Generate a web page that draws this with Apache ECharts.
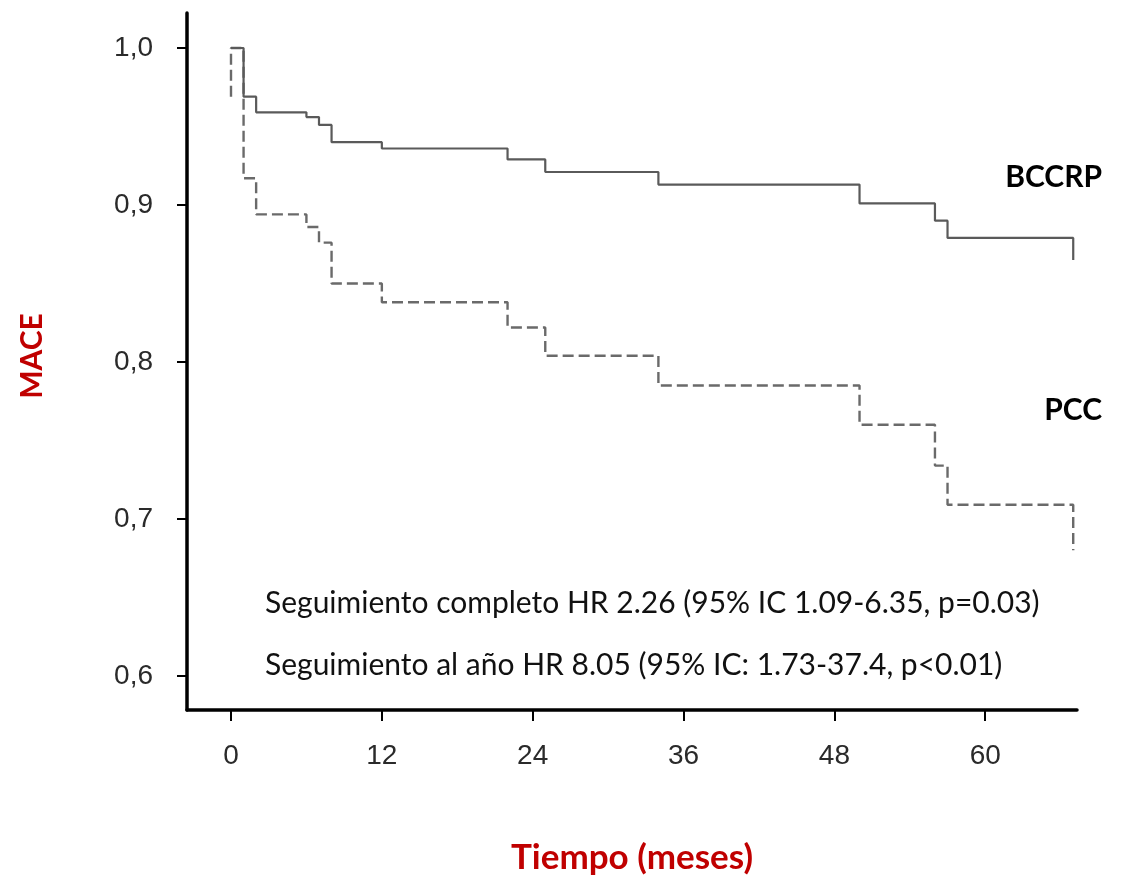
<!DOCTYPE html>
<html>
<head>
<meta charset="utf-8">
<script src="https://cdn.jsdelivr.net/npm/echarts@6/dist/echarts.min.js"></script>
<style>
html,body{margin:0;padding:0;background:#fff;}
#chart{width:1141px;height:882px;}
</style>
</head>
<body>
<div id="chart"></div>
<script>
// Data (time in months, survival free of MACE)
const bccrpTimes = [0, 1, 2, 6, 7, 8, 12, 22, 25, 34, 50, 56, 57, 67];
const bccrpSurv  = [1.0, 0.969, 0.959, 0.956, 0.951, 0.940, 0.936, 0.929, 0.921, 0.913, 0.901, 0.890, 0.879, 0.865];
const pccTimes = [0, 0, 1, 2, 6, 7, 8, 12, 22, 25, 34, 50, 56, 57, 67];
const pccSurv  = [0.969, 1.0, 0.917, 0.894, 0.886, 0.876, 0.850, 0.838, 0.822, 0.804, 0.785, 0.760, 0.734, 0.709, 0.680];
const xTicks = [0, 12, 24, 36, 48, 60];
const yTicks = [0.6, 0.7, 0.8, 0.9, 1.0];
const seriesNames = ['BCCRP', 'PCC'];
const xTitle = 'Tiempo (meses)';
const yTitle = 'MACE';
const note1 = 'Seguimiento completo HR 2.26 (95% IC 1.09-6.35, p=0.03)';
const note2 = 'Seguimiento al año HR 8.05 (95% IC: 1.73-37.4, p<0.01)';

const chart = echarts.init(document.getElementById('chart'));
const pairs = (t, s) => t.map((v, i) => [v, s[i]]);
const labelFont = 'Liberation Sans';
const textFont = 'Lato';

chart.setOption({
  backgroundColor: '#ffffff',
  animation: false,
  grid: {left: 187, right: 64, top: 13, bottom: 172, containLabel: false, outerBoundsMode: 'none'},
  xAxis: {
    type: 'value', min: -3.5, max: 67.3,
    name: xTitle, nameLocation: 'middle', nameGap: 130,
    nameTextStyle: {color: '#c00000', fontSize: 35, fontWeight: 'bold', fontFamily: textFont},
    axisLine: {onZero: false, lineStyle: {color: '#000', width: 3.5}},
    axisTick: {show: true, length: 11, lineStyle: {color: '#000', width: 2}, customValues: xTicks},
    axisLabel: {customValues: xTicks, margin: 32, fontSize: 28, color: '#2a2a2a', fontFamily: labelFont},
    splitLine: {show: false}
  },
  yAxis: {
    type: 'value', min: 0.5783, max: 1.0223,
    axisLine: {show: true, onZero: false, lineStyle: {color: '#000', width: 3.5}},
    axisTick: {show: true, length: 10, lineStyle: {color: '#000', width: 2}, customValues: yTicks},
    axisLabel: {customValues: yTicks, margin: 34, fontSize: 28, color: '#2a2a2a', fontFamily: labelFont,
      formatter: v => v.toFixed(1).replace('.', ',')},
    splitLine: {show: false}
  },
  series: [
    {
      name: seriesNames[1], type: 'line', step: 'end', showSymbol: false, z: 2,
      data: pairs(pccTimes, pccSurv),
      lineStyle: {color: '#6a6a6a', width: 2.4, type: [11, 5]}
    },
    {
      name: seriesNames[0], type: 'line', step: 'end', showSymbol: false, z: 3,
      data: pairs(bccrpTimes, bccrpSurv),
      lineStyle: {color: '#5a5a5a', width: 2.2}
    }
  ],
  graphic: [
    {type: 'text', x: 1102, y: 177, style: {text: seriesNames[0], align: 'right', verticalAlign: 'middle',
      font: 'bold 30px ' + textFont, fill: '#000'}},
    {type: 'text', x: 1102, y: 410, style: {text: seriesNames[1], align: 'right', verticalAlign: 'middle',
      font: 'bold 30px ' + textFont, fill: '#000'}},
    {type: 'text', x: 265, y: 603, style: {text: note1, align: 'left', verticalAlign: 'middle',
      font: '30px ' + textFont, fill: '#111'}},
    {type: 'text', x: 265, y: 665, style: {text: note2, align: 'left', verticalAlign: 'middle',
      font: '30px ' + textFont, fill: '#111'}},
    {type: 'text', x: 32, y: 356, rotation: Math.PI / 2, style: {text: yTitle, align: 'center', verticalAlign: 'middle',
      font: 'bold 30px ' + textFont, fill: '#c00000'}}
  ]
});
</script>
</body>
</html>
